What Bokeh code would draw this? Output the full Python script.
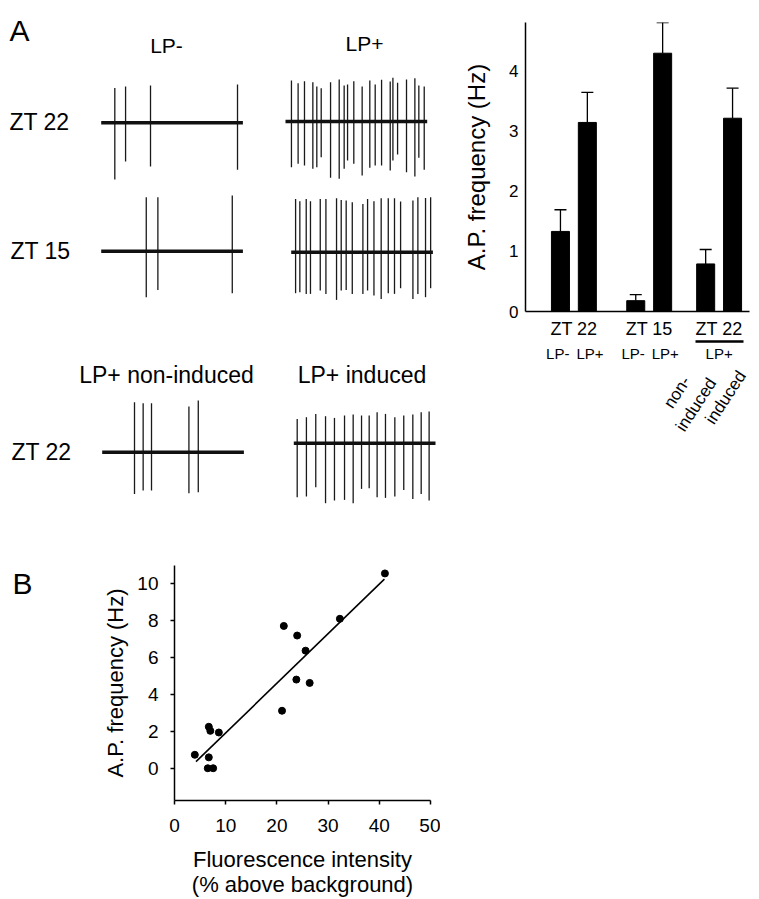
from bokeh.plotting import figure
from bokeh.layouts import row, column
from bokeh.models import (Range1d, FixedTicker, Whisker, TeeHead, ColumnDataSource, LinearAxis)
from bokeh.core.properties import value
from bokeh.embed import file_html
from bokeh.resources import INLINE

FONT = "Liberation Sans"

# ---------------- Panel A: bar chart data ----------------
bar_names = ["ZT 22 LP-", "ZT 22 LP+", "ZT 15 LP-", "ZT 15 LP+",
             "ZT 22 LP+ non-induced", "ZT 22 LP+ induced"]
bar_x = [13, 23, 41, 51, 67, 77]
bar_mean = [1.33, 3.14, 0.18, 4.29, 0.79, 3.21]
bar_sem = [0.36, 0.50, 0.10, 0.51, 0.24, 0.50]
bar_ticks = [0, 1, 2, 3, 4]
group_names = ["ZT 22", "ZT 15", "ZT 22"]
sub_names = ["LP-", "LP+", "LP-", "LP+", "LP+"]
sub_x = [12, 24, 40, 52, 72]
rot_names = ["non-\ninduced", "induced"]

# ---------------- Panel B: scatter data ----------------
fluor = [3.97, 6.7, 7.0, 8.66, 6.7, 6.5, 7.55, 21.35, 23.96, 25.6, 23.8, 26.4, 21.0, 32.3, 41.1]
freq = [0.73, 2.25, 2.03, 1.94, 0.59, 0.0, 0.0, 7.72, 7.2, 6.38, 4.81, 4.63, 3.12, 8.11, 10.57]
fit_slope = 0.269
fit_intercept = -0.77
fit_x = [4.2, 41.0]
x_ticks_b = [0, 10, 20, 30, 40, 50]
y_ticks_b = [0, 2, 4, 6, 8, 10]

# ---------------- Panel A: spike traces (time in ms of a 1 s sweep, amplitude a.u.) ----------------
t1 = [96, 172, 348, 962]
up1 = [34.7, 36.3, 37.3, 38.3]
dn1 = [56.7, 38.7, 43.7, 47.0]

t2 = [42, 89, 134, 193, 221, 252, 318, 379, 414, 438, 482, 541, 595, 633, 678, 739, 758, 791, 854, 913, 941, 979]
up2 = [41, 38.3, 40.3, 39.3, 35, 33.3, 39.3, 42, 36, 37, 40.3, 35, 41, 37, 41.7, 40, 43.7, 38.7, 42, 43.3, 36, 35]
dn2 = [45.7, 42.3, 44, 47.3, 45.7, 35.7, 56.3, 57.3, 47.3, 39, 42.3, 54, 46.3, 44, 44, 49, 39, 33, 50.7, 55, 36.3, 48.3]

t3 = [318, 400, 925]
up3 = [54, 54, 55.7]
dn3 = [46, 38.7, 42]

t4 = [31, 61, 106, 136, 205, 245, 320, 353, 388, 431, 506, 539, 584, 635, 685, 729, 772, 859, 894, 948, 984]
up4 = [53.3, 51, 53.3, 51, 53.3, 53.3, 54, 52.3, 51.7, 50, 48.3, 53.3, 51, 54, 54, 54, 50.7, 51.7, 55, 54.3, 55]
dn4 = [41, 40, 41.7, 41.7, 38.3, 41.7, 47.7, 38.3, 37.7, 41.7, 41.7, 38.3, 43.3, 46.7, 41, 41.7, 36, 46.7, 41.7, 45, 36]

t5 = [228, 289, 348, 612, 678]
up5 = [50, 49, 49, 45.7, 51.7]
dn5 = [41.7, 38.3, 38.3, 41, 40]

t6 = [24, 89, 155, 224, 287, 358, 419, 478, 532, 588, 647, 713, 776, 840, 899, 955]
up6 = [24.3, 26, 29.3, 27, 25.3, 27.7, 28.7, 27.7, 27.7, 31, 29.3, 26, 27.7, 28.7, 31, 31.7]
dn6 = [54, 53.3, 44, 60, 57.3, 56.7, 60, 45.7, 45, 54, 54.7, 53.3, 46.7, 55.7, 50.7, 57.3]

traces = [(t1, up1, dn1), (t2, up2, dn2), (t3, up3, dn3), (t4, up4, dn4), (t5, up5, dn5), (t6, up6, dn6)]
# placement of the traces on the panel (pixels)
trace_x0 = [100.7, 285.0, 100.7, 290.7, 101.7, 293.3]
trace_base = [122.3, 121.0, 250.7, 251.7, 451.7, 442.7]
trace_len = 141.7

def txt(p, x, y, s, size, align="center", baseline="middle", angle=0):
    p.text(x=[x], y=[y], text=[s], text_font=value(FONT), text_font_size=value(size),
           text_align=align, text_baseline=baseline, text_color="black", angle=angle,
           angle_units="deg")

def bare(p):
    p.grid.visible = False
    p.outline_line_color = None
    p.background_fill_color = "white"
    p.border_fill_color = "white"

def plain_axis(ax, font_size, standoff):
    ax.major_tick_out = 0
    ax.major_tick_in = 0
    ax.minor_tick_out = 0
    ax.minor_tick_in = 0
    ax.major_label_standoff = standoff
    ax.major_label_text_font = FONT
    ax.major_label_text_font_size = font_size
    ax.major_label_text_color = "black"

# ---------------- traces figure ----------------
pt = figure(width=460, height=540, x_range=Range1d(0, 460), y_range=Range1d(540, 0),
            x_axis_type=None, y_axis_type=None, min_border=0,
            toolbar_location=None, output_backend="svg")
bare(pt)
for (t, up, dn), x0, base in zip(traces, trace_x0, trace_base):
    xs = [x0 + ti / 1000 * trace_len for ti in t]
    pt.segment(x0=xs, y0=[base - u for u in up], x1=xs, y1=[base + d for d in dn],
               line_color="#1a1a1a", line_width=1.3)
    pt.line(x=[x0, x0 + trace_len], y=[base, base], line_color="#111111", line_width=3.6)

txt(pt, 19, 30, "A", "30px", baseline="alphabetic")
txt(pt, 166, 44.5, "LP-", "21px")
txt(pt, 364, 42.5, "LP+", "21px")
txt(pt, 39, 121.5, "ZT 22", "23px")
txt(pt, 40, 250.5, "ZT 15", "23px")
txt(pt, 41, 451, "ZT 22", "23px")
txt(pt, 166, 374, "LP+ non-induced", "23px", baseline="alphabetic")
txt(pt, 361.5, 374, "LP+ induced", "23px", baseline="alphabetic")

# ---------------- bar chart ----------------
pb = figure(width=299, height=364, x_range=Range1d(0, 83.3), y_range=Range1d(0, 4.8),
            min_border_left=64, min_border_right=10, min_border_top=22, min_border_bottom=0,
            toolbar_location=None, output_backend="svg")
bare(pb)
src = ColumnDataSource(dict(x=bar_x, top=bar_mean,
                            upper=[m + s for m, s in zip(bar_mean, bar_sem)]))
pb.vbar(x="x", top="top", width=6.7, source=src, fill_color="black", line_color="black")
pb.add_layout(Whisker(base="x", lower="top", upper="upper", source=src, dimension="height",
                      line_width=1.3, line_color="black",
                      upper_head=TeeHead(size=12, line_width=1.3, line_color="black"),
                      lower_head=None))
ya = pb.yaxis[0]
ya.ticker = FixedTicker(ticks=bar_ticks)
plain_axis(ya, "17px", 7)
ya.axis_label = "A.P. frequency (Hz)"
ya.axis_label_text_font = FONT
ya.axis_label_text_font_size = "24px"
ya.axis_label_text_font_style = "normal"
ya.axis_label_text_color = "black"
ya.axis_label_standoff = 16
ya.axis_line_width = 1.5

group_x = [(bar_x[0] + bar_x[1]) // 2, (bar_x[2] + bar_x[3]) // 2, (bar_x[4] + bar_x[5]) // 2]
xa = pb.xaxis[0]
xa.ticker = FixedTicker(ticks=group_x)
xa.major_label_overrides = {g: s for g, s in zip(group_x, group_names)}
plain_axis(xa, "18px", 7)
xa.axis_line_width = 1.5

xa2 = LinearAxis(ticker=FixedTicker(ticks=sub_x),
                 major_label_overrides={g: s for g, s in zip(sub_x, sub_names)},
                 bounds=(bar_x[4] - 3.6, bar_x[5] + 4.2), axis_line_width=2.5,
                 axis_line_color="black")
plain_axis(xa2, "15px", 3)
pb.add_layout(xa2, "below")

# rotated labels under the last two bars (same 2.7 px/unit x scale, frame reaching the page edge;
# y in px below the axis)
pl = figure(width=299, height=176, x_range=Range1d(0, 235 / 2.7), y_range=Range1d(229, 53),
            x_axis_type=None, y_axis_type=None,
            min_border_left=64, min_border_right=0, min_border_top=0, min_border_bottom=0,
            toolbar_location=None, output_backend="svg")
bare(pl)
txt(pl, 62.6, 87, rot_names[0], "17px", angle=57)
txt(pl, 77.8, 86, rot_names[1], "17px", angle=57)

# ---------------- Panel B ----------------
pB = figure(width=40, height=359, x_range=Range1d(0, 40), y_range=Range1d(899, 540),
            x_axis_type=None, y_axis_type=None, min_border=0,
            toolbar_location=None, output_backend="svg")
bare(pB)
txt(pB, 22, 568, "B", "30px", baseline="alphabetic")

ps = figure(width=400, height=359, x_range=Range1d(0, 50), y_range=Range1d(-1.75, 11),
            min_border_left=134, min_border_right=10, min_border_top=25, min_border_bottom=96,
            toolbar_location=None, output_backend="svg")
bare(ps)
ps.line(x=fit_x, y=[fit_slope * x + fit_intercept for x in fit_x], line_color="black", line_width=1.6)
ps.scatter(x=fluor, y=freq, size=7, fill_color="black", line_color="black")
for ax, ticks in ((ps.xaxis[0], x_ticks_b), (ps.yaxis[0], y_ticks_b)):
    ax.ticker = FixedTicker(ticks=ticks)
    ax.major_tick_out = 4
    ax.major_tick_in = 0
    ax.minor_tick_out = 0
    ax.minor_tick_in = 0
    ax.axis_line_width = 1.5
    ax.major_tick_line_width = 1.5
    ax.major_label_text_font = FONT
    ax.major_label_text_font_size = "19px"
    ax.major_label_text_color = "black"
    ax.axis_label_text_font = FONT
    ax.axis_label_text_font_size = "22px"
    ax.axis_label_text_font_style = "normal"
    ax.axis_label_text_color = "black"
ps.xaxis[0].major_label_standoff = 14
ps.xaxis[0].axis_label = "Fluorescence intensity\n(% above background)"
ps.xaxis[0].axis_label_text_line_height = 1.0
ps.xaxis[0].axis_label_standoff = 12
ps.yaxis[0].major_label_standoff = 12
ps.yaxis[0].axis_label = "A.P. frequency (Hz)"
ps.yaxis[0].axis_label_standoff = 6

layout = column(row(pt, column(pb, pl)), row(pB, ps))
open("out.html", "w").write(file_html(layout, INLINE))
